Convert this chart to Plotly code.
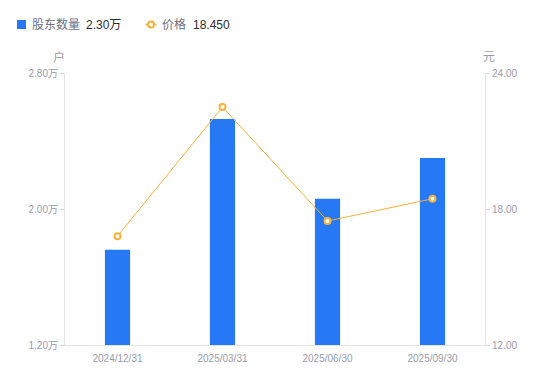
import plotly.graph_objects as go

categories = ["2024/12/31", "2025/03/31", "2025/06/30", "2025/09/30"]
holders = [1.76, 2.53, 2.06, 2.30]          # 万户
price = [16.80, 22.50, 17.47, 18.45]        # 元
left_ticks = [1.2, 2.0, 2.8]
left_labels = ["1.20万", "2.00万", "2.80万"]
right_ticks = [12, 18, 24]
right_labels = ["12.00", "18.00", "24.00"]
legend_names = ["股东数量", "价格"]
legend_values = ["2.30万", "18.450"]

BLUE = "#2678F5"
ORANGE = "#F7B23B"
GRAY = "#9A9CAB"
LGRAY = "#6E7080"
DARK = "#2B2B33"
FONT = "Liberation Sans, Noto Sans CJK SC, sans-serif"

# page body offset (browser default margin) and plot area in window pixels
OFF = 8
PX0, PX1, PY0, PY1 = 65, 485, 73, 345
W, H = 550, 381
L = PX0 - OFF
R = W - (PX1 - OFF)
T = PY0 - OFF
B = H - (PY1 - OFF)


def px(xw):
    return (xw - PX0) / (PX1 - PX0)


def py(yw):
    return (PY1 - yw) / (PY1 - PY0)


fig = go.Figure()
fig.add_trace(go.Bar(
    x=categories, y=holders, base=0, width=0.24,
    marker=dict(color=BLUE, line=dict(width=0)),
    name=legend_names[0], yaxis="y", showlegend=False,
))
fig.add_trace(go.Scatter(
    x=categories, y=price, mode="lines+markers",
    line=dict(color=ORANGE, width=1),
    marker=dict(symbol="circle", size=6, color="white", line=dict(color=ORANGE, width=2)),
    name=legend_names[1], yaxis="y2", showlegend=False,
))

axis_common = dict(showgrid=False, zeroline=False, showline=True, linecolor="#E3E4E8",
                   linewidth=1, ticks="outside", ticklen=4, tickcolor="#D5D7DD",
                   tickfont=dict(size=10, color=GRAY))

fig.update_layout(
    width=W, height=H,
    margin=dict(l=L, r=R, t=T, b=B),
    paper_bgcolor="white", plot_bgcolor="white",
    font=dict(family=FONT, size=11, color=GRAY),
    showlegend=False,
    xaxis=dict(type="category", showgrid=False, showline=True, linecolor="#E3E4E8",
               linewidth=1, ticks="", tickfont=dict(size=10, color=GRAY), range=[-0.5, 3.5],
               ticklabelstandoff=4),
    yaxis=dict(range=[1.2, 2.8], tickvals=left_ticks, ticktext=left_labels, **axis_common),
    yaxis2=dict(range=[12, 24], tickvals=right_ticks, ticktext=right_labels,
                overlaying="y", side="right", **axis_common),
)

ly = 24.5
ann = [
    dict(text="户", x=px(59), y=py(57)),
    dict(text="元", x=px(489), y=py(57)),
]
for a in ann:
    a.update(xref="paper", yref="paper", showarrow=False, xanchor="center", yanchor="middle",
             font=dict(size=12, color=GRAY))
legend_ann = [
    dict(text=legend_names[0], x=px(31), font=dict(size=12, color=LGRAY)),
    dict(text=legend_values[0], x=px(85), font=dict(size=12, color=DARK)),
    dict(text=legend_names[1], x=px(161), font=dict(size=12, color=LGRAY)),
    dict(text=legend_values[1], x=px(192), font=dict(size=12, color=DARK)),
]
for a in legend_ann:
    a.update(xref="paper", yref="paper", y=py(ly), showarrow=False,
             xanchor="left", yanchor="middle", xshift=-1)
fig.layout.annotations = ann + legend_ann

fig.layout.shapes = [
    dict(type="rect", xref="paper", yref="paper", x0=px(17), x1=px(26), y0=py(ly - 4.5),
         y1=py(ly + 4.5), fillcolor=BLUE, line=dict(width=0)),
    dict(type="line", xref="paper", yref="paper", x0=px(145.5), x1=px(156.5), y0=py(ly),
         y1=py(ly), line=dict(color=ORANGE, width=1.5)),
    dict(type="circle", xref="paper", yref="paper", x0=px(148), x1=px(154), y0=py(ly - 3),
         y1=py(ly + 3), fillcolor="white", line=dict(color=ORANGE, width=2)),
]

fig.write_html("out.html")
